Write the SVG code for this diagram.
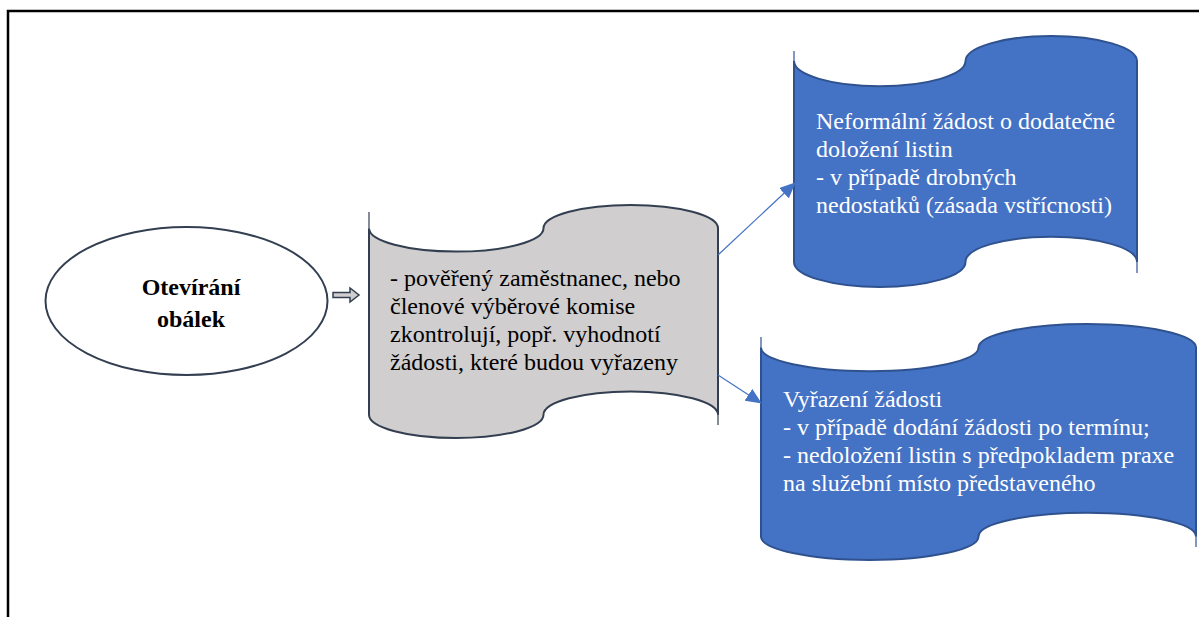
<svg xmlns="http://www.w3.org/2000/svg" width="1199" height="617" viewBox="0 0 1199 617">
  <style>
    .frame { stroke: #000; stroke-width: 2.5; fill: none; }
    .tape-gray { fill: #D0CECE; stroke: #333F50; stroke-width: 2; }
    .tape-blue { fill: #4472C4; stroke: #2F528F; stroke-width: 2; }
    .edge-gray { stroke: #333F50; stroke-width: 1.2; }
    .edge-blue { stroke: #2F528F; stroke-width: 1.2; }
    .oval { fill: #fff; stroke: #333F50; stroke-width: 2; }
    .txt { font-family: "Liberation Serif", "Times New Roman", serif; font-size: 24px; }
    .dark { fill: #000; }
    .light { fill: #fff; }
    .title { font-weight: bold; text-anchor: middle; }
    .link { stroke: #4472C4; stroke-width: 1.2; fill: none; marker-end: url(#tri); }
  </style>
  <defs>
    <marker id="tri" markerUnits="userSpaceOnUse" markerWidth="16" markerHeight="14" refX="15" refY="7" orient="auto">
      <path d="M0,0 L16,7 L0,14 Z" fill="#4472C4"/>
    </marker>
  </defs>

  <!-- page frame -->
  <path class="frame" d="M8,617 V11 H1199"/>

  <!-- start oval -->
  <g id="node-start">
    <ellipse class="oval" cx="186.5" cy="301" rx="141" ry="74"/>
    <text class="txt dark title" x="191" y="295">Otevírání</text>
    <text class="txt dark title" x="191" y="327">obálek</text>
  </g>

  <!-- check step (punched tape) -->
  <g id="node-check">
    <path class="tape-gray" d="M369,228.3 A87.25,23.3 0 0 0 543.5,228.3 A87.25,23.3 0 0 1 718,228.3 L718,414.7 A87.25,23.3 0 0 0 543.5,414.7 A87.25,23.3 0 0 1 369,414.7 Z"/>
    <line class="edge-gray" x1="369" y1="212" x2="369" y2="228"/>
    <line class="edge-gray" x1="718" y1="414" x2="718" y2="425"/>
    <text class="txt dark" x="390" y="286">- pověřený zaměstnanec, nebo</text>
    <text class="txt dark" x="390" y="314">členové výběrové komise</text>
    <text class="txt dark" x="390" y="342">zkontrolují, popř. vyhodnotí</text>
    <text class="txt dark" x="390" y="370">žádosti, které budou vyřazeny</text>
  </g>

  <!-- informal request -->
  <g id="node-request">
    <path class="tape-blue" d="M794,61.1 A85.75,25.1 0 0 0 965.5,61.1 A85.75,25.1 0 0 1 1137,61.1 L1137,261.9 A85.75,25.1 0 0 0 965.5,261.9 A85.75,25.1 0 0 1 794,261.9 Z"/>
    <line class="edge-blue" x1="794" y1="51" x2="794" y2="61"/>
    <line class="edge-blue" x1="1137" y1="262" x2="1137" y2="273"/>
    <text class="txt light" x="816" y="129">Neformální žádost o dodatečné</text>
    <text class="txt light" x="816" y="157">doložení listin</text>
    <text class="txt light" x="816" y="185">- v případě drobných</text>
    <text class="txt light" x="816" y="213">nedostatků (zásada vstřícnosti)</text>
  </g>

  <!-- rejection -->
  <g id="node-reject">
    <path class="tape-blue" d="M761,347.6 A108.75,23.6 0 0 0 978.5,347.6 A108.75,23.6 0 0 1 1196,347.6 L1196,536.4 A108.75,23.6 0 0 0 978.5,536.4 A108.75,23.6 0 0 1 761,536.4 Z"/>
    <line class="edge-blue" x1="761" y1="337" x2="761" y2="348"/>
    <line class="edge-blue" x1="1196" y1="536" x2="1196" y2="547"/>
    <text class="txt light" x="783" y="407">Vyřazení žádosti</text>
    <text class="txt light" x="783" y="435">- v případě dodání žádosti po termínu;</text>
    <text class="txt light" x="783" y="463">- nedoložení listin s předpokladem praxe</text>
    <text class="txt light" x="783" y="491">na služební místo představeného</text>
  </g>

  <!-- connectors -->
  <g id="connectors">
    <path d="M333,292.5 H350 V288 L359,295 L350,302 V297.5 H333 Z" fill="#D0CECE" stroke="#333F50" stroke-width="1.5"/>
    <line class="link" x1="718" y1="255" x2="795" y2="183"/>
    <line class="link" x1="718" y1="375" x2="761" y2="403"/>
  </g>
</svg>
